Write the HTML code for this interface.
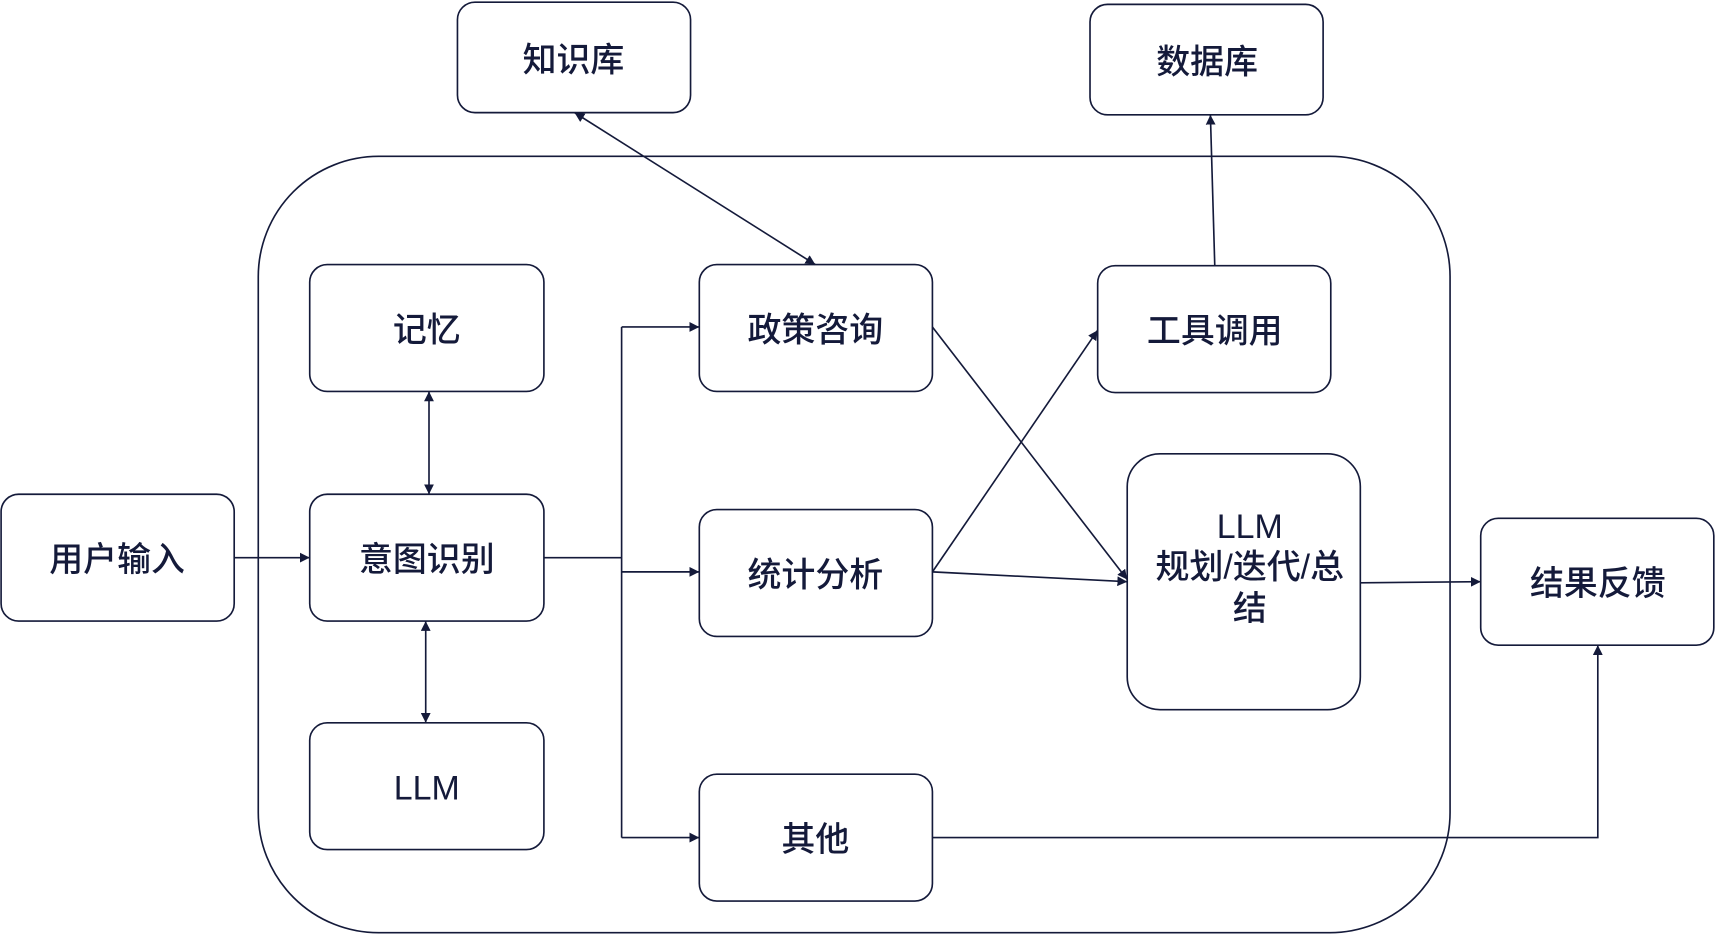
<!DOCTYPE html>
<html><head><meta charset="utf-8"><style>
html,body{margin:0;padding:0;background:#fff;}
svg{display:block;}
text{font-family:"Liberation Sans","Noto Sans CJK SC",sans-serif;font-size:31px;font-weight:500;fill:#141a3a;text-anchor:middle;dominant-baseline:middle;}
</style></head><body>
<svg width="1716" height="936" viewBox="0 0 1568 856" preserveAspectRatio="none" xmlns="http://www.w3.org/2000/svg">
<defs>
<marker id="a" viewBox="0 0 10 10" refX="10" refY="5" markerWidth="9" markerHeight="9" orient="auto-start-reverse" markerUnits="userSpaceOnUse"><path d="M0,0 L10,5 L0,10 z" fill="#141a3a"/></marker>
</defs>
<g fill="none" stroke="#141a3a" stroke-width="1.5">
<rect x="236" y="143" width="1089" height="710" rx="110"/>
<rect x="418" y="2" width="213" height="101" rx="16"/>
<rect x="996" y="4" width="213" height="101" rx="16"/>
<rect x="283" y="242" width="214" height="116" rx="16"/>
<rect x="283" y="452" width="214" height="116" rx="16"/>
<rect x="283" y="661" width="214" height="116" rx="16"/>
<rect x="1" y="452" width="213" height="116" rx="16"/>
<rect x="639" y="242" width="213" height="116" rx="16"/>
<rect x="639" y="466" width="213" height="116" rx="16"/>
<rect x="639" y="708" width="213" height="116" rx="16"/>
<rect x="1003" y="243" width="213" height="116" rx="16"/>
<rect x="1030" y="415" width="213" height="234" rx="30"/>
<rect x="1353" y="474" width="213" height="116" rx="16"/>
</g>
<g fill="none" stroke="#141a3a" stroke-width="1.5">
<line x1="214" y1="510" x2="283" y2="510" marker-end="url(#a)"/>
<line x1="392" y1="358" x2="392" y2="452" marker-start="url(#a)" marker-end="url(#a)"/>
<line x1="389" y1="568" x2="389" y2="661" marker-start="url(#a)" marker-end="url(#a)"/>
<polyline points="497,510 568,510"/>
<line x1="568" y1="299" x2="568" y2="766"/>
<line x1="568" y1="299" x2="639" y2="299" marker-end="url(#a)"/>
<line x1="568" y1="523" x2="639" y2="523" marker-end="url(#a)"/>
<line x1="568" y1="766" x2="639" y2="766" marker-end="url(#a)"/>
<line x1="525" y1="103" x2="745" y2="242" marker-start="url(#a)" marker-end="url(#a)"/>
<line x1="1110" y1="243" x2="1106" y2="105" marker-end="url(#a)"/>
<line x1="852" y1="299" x2="1030" y2="530" marker-end="url(#a)"/>
<line x1="852" y1="523" x2="1003" y2="302" marker-end="url(#a)"/>
<line x1="852" y1="523" x2="1030" y2="532" marker-end="url(#a)"/>
<line x1="1243" y1="533" x2="1353" y2="532" marker-end="url(#a)"/>
<polyline points="852,766 1460,766 1460,590" marker-end="url(#a)"/>
</g>
<text x="524" y="57">知识库</text>
<text x="1103" y="59">数据库</text>
<text x="390" y="304">记忆</text>
<text x="390" y="514">意图识别</text>
<text x="390" y="723">LLM</text>
<text x="107" y="514">用户输入</text>
<text x="745" y="304">政策咨询</text>
<text x="745" y="528">统计分析</text>
<text x="745" y="770">其他</text>
<text x="1110" y="305">工具调用</text>
<text x="1142" y="484">LLM</text>
<text x="1142" y="521">规划/迭代/总</text>
<text x="1142" y="559">结</text>
<text x="1460" y="536">结果反馈</text>
</svg>
</body></html>
